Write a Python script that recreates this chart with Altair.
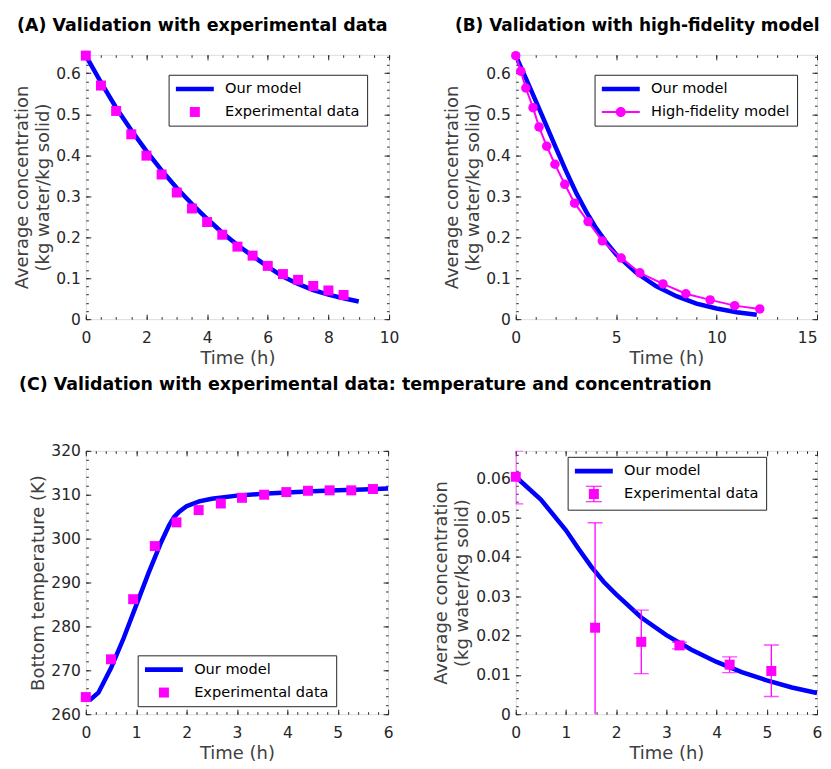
import altair as alt
import pandas as pd

FONT = "DejaVu Sans"
BLUE = "#0000ff"
MAG = "#ff00ff"
FRAME = "#262626"
LABELC = "#262626"
TITLEC = "#404040"

# ---------------- Panel A data ----------------
a_exp_t = [0, 0.5, 1.0, 1.5, 2.0, 2.5, 3.0, 3.5, 4.0, 4.5, 5.0, 5.5, 6.0, 6.5, 7.0, 7.5, 8.0, 8.5]
a_exp_c = [0.643, 0.570, 0.508, 0.451, 0.399, 0.353, 0.309, 0.270, 0.237, 0.206,
           0.177, 0.155, 0.130, 0.110, 0.096, 0.081, 0.070, 0.059]
a_mod_t = [0, 0.5, 1.0, 1.5, 2.0, 2.5, 3.0, 3.5, 4.0, 4.5, 5.0, 5.5, 6.0, 6.5, 7.0, 7.5, 8.0, 8.5, 9.0]
a_mod_c = [0.643, 0.578, 0.516, 0.461, 0.410, 0.363, 0.320, 0.281, 0.245, 0.211,
           0.181, 0.154, 0.128, 0.104, 0.086, 0.071, 0.060, 0.051, 0.043]

# ---------------- Panel B data ----------------
b_hf_t = [0, 0.25, 0.50, 0.86, 1.16, 1.54, 1.95, 2.44, 2.93, 3.60, 4.31, 5.25,
          6.18, 7.33, 8.47, 9.68, 10.9, 12.15]
b_hf_c = [0.643, 0.605, 0.564, 0.516, 0.469, 0.422, 0.378, 0.329, 0.283, 0.238,
          0.191, 0.149, 0.113, 0.086, 0.062, 0.047, 0.033, 0.025]
b_mod_t = [0, 0.5, 1, 1.5, 2, 2.5, 3, 3.5, 4, 4.5, 5, 6, 7, 8, 9, 10, 11, 12]
b_mod_c = [0.643, 0.588, 0.532, 0.475, 0.418, 0.362, 0.309, 0.263, 0.222, 0.188,
           0.158, 0.113, 0.080, 0.056, 0.038, 0.026, 0.017, 0.011]

# ---------------- Panel C (left) data ----------------
cl_exp_t = [0, 0.50, 0.94, 1.37, 1.80, 2.24, 2.68, 3.10, 3.54, 3.98, 4.41, 4.84, 5.27, 5.70]
cl_exp_T = [263.9, 272.5, 286.2, 298.3, 303.7, 306.5, 308.0, 309.3, 310.0, 310.6,
            310.9, 311.0, 311.0, 311.3]
cl_mod_t = [0, 0.1, 0.25, 0.5, 0.75, 1.0, 1.25, 1.5, 1.65, 1.75, 1.85, 2.0, 2.25,
            2.5, 3.0, 3.5, 4.0, 4.5, 5.0, 5.5, 6.0]
cl_mod_T = [263.8, 263.4, 264.9, 270.5, 277.3, 284.8, 292.3, 299.3, 303.0, 304.9,
            306.1, 307.4, 308.5, 309.1, 309.8, 310.2, 310.5, 310.8, 311.0, 311.2, 311.4]

# ---------------- Panel C (right) data ----------------
cr_exp_t = [0, 1.58, 2.50, 3.26, 4.26, 5.09]
cr_exp_c = [0.0604, 0.0220, 0.0184, 0.0175, 0.0126, 0.0110]
cr_err_lo = [0.0535, -0.0047, 0.0103, 0.0166, 0.0106, 0.0045]
cr_err_hi = [0.0670, 0.0487, 0.0265, 0.0183, 0.0146, 0.0176]
cr_mod_t = [0, 0.5, 1, 1.25, 1.5, 1.75, 2, 2.5, 3, 3.5, 4, 4.5, 5, 5.5, 6]
cr_mod_c = [0.0604, 0.0546, 0.0468, 0.0421, 0.0376, 0.0337, 0.0305, 0.0246, 0.0201,
            0.0164, 0.0133, 0.0107, 0.0086, 0.0068, 0.0054]

# ---------------- ticks ----------------
a_xmaj = [0, 2, 4, 6, 8, 10]
a_xmin = [0.5 * i for i in range(21)]
ab_ymaj = [0, 0.1, 0.2, 0.3, 0.4, 0.5, 0.6]
ab_ymin = [round(0.02 * i, 2) for i in range(33)]
b_xmaj = [0, 5, 10, 15]
b_xmin = list(range(16))
c_xmaj = [0, 1, 2, 3, 4, 5, 6]
c_xmin = [round(0.2 * i, 1) for i in range(31)]
cl_ymaj = [260, 270, 280, 290, 300, 310, 320]
cl_ymin = list(range(260, 321, 2))
cr_ymaj = [0, 0.01, 0.02, 0.03, 0.04, 0.05, 0.06]
cr_ymin = [round(0.002 * i, 3) for i in range(34)]

# legend symbol paths (unit = 7 px; symbol centre sits 7 px from the entry's left)
P_LINE = "M-1,-0.33H4.43V0.33H-1Z"
P_SQ = "M1,-0.714H2.43V0.714H1Z"
P_LINECIRC = ("M-1,-0.14H4.43V0.14H-1Z "
              "M2.43,0A0.714,0.714 0 1,1 1,0A0.714,0.714 0 1,1 2.43,0Z")
P_SQERR = ("M1,-0.714H2.43V0.714H1Z M1.62,-1.07H1.81V1.07H1.62Z "
           "M0.57,-1.17H2.86V-1.03H0.57Z M0.57,1.03H2.86V1.17H0.57Z")


def in_axis(orient, values, size, labels=False, title=None, lpad=0, tpad=0, align=None):
    kw = dict(orient=orient, values=values, tickSize={"expr": str(-size)},
              domain=False, grid=False, labels=labels, tickColor=FRAME,
              tickWidth=1, title=title)
    if labels:
        kw.update(labelExpr="'' + datum.value", labelFont=FONT, labelFontSize=15.5,
                  labelColor=LABELC, labelPadding=lpad, labelFlush=False)
        if align is not None:
            kw.update(labelAlign=align)
    else:
        kw.update(minExtent=0, maxExtent=0)
    if title is not None:
        kw.update(titleFont=FONT, titleFontSize=18, titleColor=TITLEC,
                  titleFontWeight="normal", titlePadding=tpad, titleLineHeight=21)
    return alt.Axis(**kw)


def panel(line_df, xdom, ydom, xmaj, xmin, ymaj, ymin, xtitle, ytitle,
          data_layers, legend_names, legend_colors, legend_paths, leg_xy,
          w, h, title=None, ytpad=3, xalign=None):
    xs = alt.Scale(domain=xdom, nice=False, zero=False)
    ys = alt.Scale(domain=ydom, nice=False, zero=False)

    def X(ax):
        return alt.X("t:Q", scale=xs, axis=ax)

    def Y(ax):
        return alt.Y("c:Q", scale=ys, axis=ax)

    main = alt.Chart(line_df).mark_line(color=BLUE, strokeWidth=4.5, clip=True).encode(
        x=X(in_axis("bottom", xmaj, 5, labels=True, title=xtitle, lpad=16, tpad=4, align=xalign)),
        y=Y(in_axis("left", ymaj, 5, labels=True, title=ytitle, lpad=10.5, tpad=ytpad)),
    )
    deco = []
    for xa, ya in [
        (in_axis("bottom", xmin, 2.5), in_axis("left", ymin, 2.5)),
        (in_axis("top", xmaj, 5), in_axis("right", ymaj, 5)),
        (in_axis("top", xmin, 2.5), in_axis("right", ymin, 2.5)),
    ]:
        deco.append(alt.Chart(line_df).mark_point(opacity=0).encode(x=X(xa), y=Y(ya)))

    leg = alt.Legend(orient="none", legendX=leg_xy[0], legendY=leg_xy[1], title=None,
                     fillColor="white", strokeColor=FRAME, padding=7,
                     labelFont=FONT, labelFontSize=14.6, labelColor="black",
                     symbolSize=196, symbolStrokeWidth=0, symbolOpacity=1,
                     rowPadding=8, labelOffset=35, labelLimit=400)
    leg_df = pd.DataFrame({"s": legend_names,
                           "t": [line_df["t"].iloc[0]] * len(legend_names),
                           "c": [line_df["c"].iloc[0]] * len(legend_names)})
    leg_layer = alt.Chart(leg_df).mark_point(filled=True, opacity=0).encode(
        x=X(None), y=Y(None),
        color=alt.Color("s:N", scale=alt.Scale(domain=legend_names, range=legend_colors), legend=leg),
        shape=alt.Shape("s:N", scale=alt.Scale(domain=legend_names, range=legend_paths), legend=leg),
    )
    layers = [main] + [f(X, Y) for f in data_layers] + deco + [leg_layer]
    ch = alt.layer(*layers).resolve_axis(x="independent", y="independent")
    props = dict(width=w, height=h)
    if title is not None:
        props["title"] = title
    return ch.properties(**props)


def mk_title(text, dx, offset, size=17.5):
    return alt.TitleParams(text=text, anchor="start", frame="group", dx=dx,
                           offset=offset, font=FONT, fontSize=size,
                           fontWeight="bold", color="black", baseline="bottom")


# ---- Panel A ----
a_line = pd.DataFrame({"t": a_mod_t, "c": a_mod_c})
a_pts = pd.DataFrame({"t": a_exp_t, "c": a_exp_c})
A = panel(
    a_line, [0, 10], [0, 0.645], a_xmaj, a_xmin, ab_ymaj, ab_ymin,
    "Time (h)", ["Average concentration", "(kg water/kg solid)"],
    [lambda X, Y: alt.Chart(a_pts).mark_square(color=MAG, size=100, opacity=1).encode(x=X(None), y=Y(None))],
    ["Our model", "Experimental data"], [BLUE, MAG], [P_LINE, P_SQ], (83, 20),
    304, 265, mk_title("(A) Validation with experimental data", -69, -1.5))

# ---- Panel B ----
b_line = pd.DataFrame({"t": b_mod_t, "c": b_mod_c})
b_pts = pd.DataFrame({"t": b_hf_t, "c": b_hf_c})
B = panel(
    b_line, [0, 15], [0, 0.645], b_xmaj, b_xmin, ab_ymaj, ab_ymin,
    "Time (h)", ["Average concentration", "(kg water/kg solid)"],
    [lambda X, Y: alt.Chart(b_pts).mark_line(color=MAG, strokeWidth=2).encode(x=X(None), y=Y(None)),
     lambda X, Y: alt.Chart(b_pts).mark_circle(color=MAG, size=90, opacity=1).encode(x=X(None), y=Y(None))],
    ["Our model", "High-fidelity model"], [BLUE, MAG], [P_LINE, P_LINECIRC], (79, 20),
    302, 265, mk_title("(B) Validation with high-fidelity model", -61, -1.5, 17.0),
    xalign={"condition": {"test": "datum.value == 15", "value": "right"}, "value": "center"})

# ---- Panel C left ----
cl_line = pd.DataFrame({"t": cl_mod_t, "c": cl_mod_T})
cl_pts = pd.DataFrame({"t": cl_exp_t, "c": cl_exp_T})
CL = panel(
    cl_line, [0, 6], [260, 320], c_xmaj, c_xmin, cl_ymaj, cl_ymin,
    "Time (h)", "Bottom temperature (K)",
    [lambda X, Y: alt.Chart(cl_pts).mark_square(color=MAG, size=100, opacity=1).encode(x=X(None), y=Y(None))],
    ["Our model", "Experimental data"], [BLUE, MAG], [P_LINE, P_SQ], (52, 205),
    303, 264,
    mk_title("(C) Validation with experimental data: temperature and concentration", -67, 32))

# ---- Panel C right ----
cr_line = pd.DataFrame({"t": cr_mod_t, "c": cr_mod_c})
cr_pts = pd.DataFrame({"t": cr_exp_t, "c": cr_exp_c, "lo": cr_err_lo, "hi": cr_err_hi})
cr_ys = alt.Scale(domain=[0, 0.067], nice=False, zero=False)


def cr_err(X, Y):
    return alt.Chart(cr_pts).mark_rule(color=MAG, strokeWidth=1.3, clip=True).encode(
        x=X(None), y=alt.Y("lo:Q", scale=cr_ys, axis=None), y2="hi:Q")


def cr_cap(field):
    def f(X, Y):
        return alt.Chart(cr_pts).mark_tick(color=MAG, thickness=1.3, size=15,
                                            orient="horizontal", clip=True).encode(
            x=X(None), y=alt.Y(f"{field}:Q", scale=cr_ys, axis=None))
    return f


CR = panel(
    cr_line, [0, 6], [0, 0.067], c_xmaj, c_xmin, cr_ymaj, cr_ymin,
    "Time (h)", ["Average concentration", "(kg water/kg solid)"],
    [cr_err, cr_cap("lo"), cr_cap("hi"),
     lambda X, Y: alt.Chart(cr_pts).mark_square(color=MAG, size=100, opacity=1).encode(x=X(None), y=Y(None))],
    ["Our model", "Experimental data"], [BLUE, MAG], [P_LINE, P_SQERR], (52, 6),
    302, 264, ytpad=4)

chart = alt.concat(A, B, CL, CR, columns=2, spacing={"row": 132, "column": 127},
                   bounds="flush").resolve_scale(
    color="independent", shape="independent"
).properties(
    padding={"left": 5, "top": 7, "right": 0, "bottom": 0}
).configure_view(stroke=FRAME, strokeWidth=1).configure(font=FONT)

chart.save("out.html", embed_options={"renderer": "svg", "actions": False})
